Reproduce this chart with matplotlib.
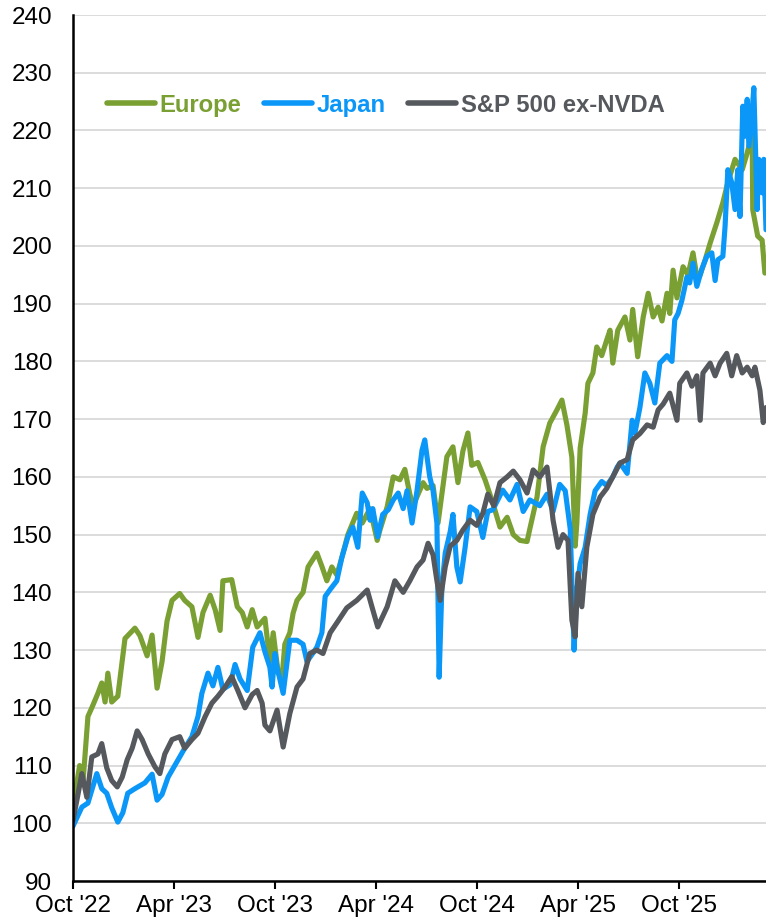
import pandas as pd
import matplotlib
matplotlib.use('Agg')
import matplotlib.pyplot as plt

plt.rcParams['font.family'] = ['Liberation Sans', 'DejaVu Sans']

# Europe
europe_dates = [
    '2022-10-01', '2022-10-13', '2022-10-19', '2022-10-28', '2022-11-04', '2022-11-15',
    '2022-11-22', '2022-11-28', '2022-12-03', '2022-12-10', '2022-12-21', '2023-01-03',
    '2023-01-21', '2023-01-30', '2023-02-12', '2023-02-21', '2023-03-02', '2023-03-11',
    '2023-03-20', '2023-03-29', '2023-04-12', '2023-04-21', '2023-05-04', '2023-05-15',
    '2023-05-24', '2023-06-06', '2023-06-15', '2023-06-24', '2023-06-29', '2023-07-15',
    '2023-07-25', '2023-08-03', '2023-08-12', '2023-08-21', '2023-08-30', '2023-09-13',
    '2023-09-22', '2023-09-28', '2023-10-07', '2023-10-14', '2023-10-19', '2023-10-28',
    '2023-11-03', '2023-11-10', '2023-11-21', '2023-11-30', '2023-12-16', '2023-12-25',
    '2024-01-03', '2024-01-12', '2024-01-21', '2024-01-30', '2024-02-10', '2024-02-26',
    '2024-03-07', '2024-03-21', '2024-04-03', '2024-04-08', '2024-04-21', '2024-05-02',
    '2024-05-14', '2024-05-23', '2024-06-01', '2024-06-07', '2024-06-25', '2024-07-02',
    '2024-07-13', '2024-07-22', '2024-08-07', '2024-08-18', '2024-08-27', '2024-09-05',
    '2024-09-14', '2024-09-21', '2024-10-02', '2024-10-15', '2024-10-29', '2024-11-11',
    '2024-11-24', '2024-12-05', '2024-12-17', '2024-12-30', '2025-01-04', '2025-01-17',
    '2025-01-28', '2025-02-09', '2025-02-22', '2025-03-03', '2025-03-12', '2025-03-21',
    '2025-03-27', '2025-03-30', '2025-04-05', '2025-04-14', '2025-04-19', '2025-04-28',
    '2025-05-05', '2025-05-14', '2025-05-23', '2025-05-29', '2025-06-03', '2025-06-12',
    '2025-06-25', '2025-07-04', '2025-07-09', '2025-07-18', '2025-07-28', '2025-08-06',
    '2025-08-15', '2025-08-24', '2025-08-31', '2025-09-09', '2025-09-14', '2025-09-20',
    '2025-09-27', '2025-10-08', '2025-10-17', '2025-10-26', '2025-11-02', '2025-11-08',
    '2025-11-17', '2025-11-26', '2025-12-08', '2025-12-19', '2025-12-28', '2026-01-10',
    '2026-01-23', '2026-02-01', '2026-02-10', '2026-02-11', '2026-02-20', '2026-02-28',
    '2026-03-05',
]
europe_values = [
    103.0, 110.0, 107.0, 118.5, 120.0, 122.5,
    124.3, 121.0, 126.0, 121.0, 122.0, 132.0,
    133.8, 132.5, 129.0, 132.6, 123.4, 128.0,
    135.0, 138.6, 139.8, 138.6, 137.5, 132.2,
    136.5, 139.5, 137.0, 133.4, 142.0, 142.2,
    137.5, 136.5, 134.0, 137.0, 134.0, 135.5,
    128.0, 133.0, 126.0, 125.3, 131.0, 133.0,
    136.4, 138.6, 140.0, 144.4, 146.8, 144.5,
    142.0, 144.4, 143.0, 146.0, 150.0, 153.7,
    152.0, 154.5, 149.0, 150.8, 154.8, 160.0,
    159.5, 161.3, 157.0, 155.0, 159.0, 158.0,
    158.5, 152.0, 163.5, 165.2, 159.0, 164.5,
    167.6, 162.0, 162.5, 159.5, 155.5, 151.3,
    153.0, 150.0, 149.0, 148.8, 151.0, 156.5,
    165.2, 169.3, 171.6, 173.3, 169.0, 163.4,
    148.0, 152.0, 165.0, 171.0, 176.2, 178.0,
    182.5, 181.0, 183.7, 185.4, 179.7, 185.4,
    187.7, 183.7, 189.0, 180.8, 187.7, 191.8,
    187.7, 189.4, 187.0, 191.8, 188.3, 195.8,
    191.0, 196.4, 195.0, 198.8, 194.7, 195.0,
    197.6, 200.5, 204.0, 207.5, 211.0, 215.0,
    213.2, 216.1, 219.6, 206.3, 201.7, 201.0,
    195.3,
]

# Japan
japan_dates = [
    '2022-10-01', '2022-10-17', '2022-10-28', '2022-11-13', '2022-11-22', '2022-12-01',
    '2022-12-10', '2022-12-21', '2022-12-30', '2023-01-08', '2023-01-21', '2023-02-08',
    '2023-02-21', '2023-03-02', '2023-03-11', '2023-03-22', '2023-04-03', '2023-04-12',
    '2023-04-21', '2023-05-04', '2023-05-15', '2023-05-22', '2023-06-02', '2023-06-11',
    '2023-06-20', '2023-06-29', '2023-07-12', '2023-07-21', '2023-07-30', '2023-08-12',
    '2023-08-22', '2023-09-04', '2023-09-13', '2023-09-22', '2023-09-26', '2023-10-01',
    '2023-10-05', '2023-10-16', '2023-10-28', '2023-11-10', '2023-11-21', '2023-11-28',
    '2023-12-09', '2023-12-16', '2023-12-25', '2023-12-31', '2024-01-09', '2024-01-21',
    '2024-01-30', '2024-02-10', '2024-02-19', '2024-02-28', '2024-03-07', '2024-03-16',
    '2024-03-21', '2024-03-26', '2024-04-04', '2024-04-13', '2024-04-23', '2024-05-02',
    '2024-05-11', '2024-05-20', '2024-05-27', '2024-06-05', '2024-06-14', '2024-06-23',
    '2024-06-28', '2024-07-07', '2024-07-13', '2024-07-20', '2024-07-24', '2024-07-29',
    '2024-08-04', '2024-08-13', '2024-08-18', '2024-08-25', '2024-08-31', '2024-09-09',
    '2024-09-18', '2024-09-30', '2024-10-11', '2024-10-20', '2024-10-29', '2024-11-16',
    '2024-11-29', '2024-12-12', '2024-12-23', '2025-01-04', '2025-01-22', '2025-02-04',
    '2025-02-15', '2025-02-27', '2025-03-09', '2025-03-18', '2025-03-23', '2025-03-25',
    '2025-03-30', '2025-04-05', '2025-04-14', '2025-04-23', '2025-05-02', '2025-05-14',
    '2025-05-23', '2025-06-03', '2025-06-11', '2025-06-16', '2025-06-29', '2025-07-08',
    '2025-07-13', '2025-07-22', '2025-07-31', '2025-08-09', '2025-08-18', '2025-08-27',
    '2025-09-09', '2025-09-18', '2025-09-23', '2025-09-29', '2025-10-06', '2025-10-15',
    '2025-10-20', '2025-10-26', '2025-11-02', '2025-11-11', '2025-11-20', '2025-11-29',
    '2025-12-05', '2025-12-10', '2025-12-19', '2025-12-23', '2025-12-28', '2026-01-04',
    '2026-01-10', '2026-01-15', '2026-01-19', '2026-01-24', '2026-01-28', '2026-02-01',
    '2026-02-04', '2026-02-11', '2026-02-13', '2026-02-19', '2026-02-22', '2026-02-28',
    '2026-03-03', '2026-03-07',
]
japan_values = [
    99.5, 102.8, 103.5, 108.6, 106.0, 105.2,
    102.7, 100.2, 101.8, 105.2, 106.0, 107.0,
    108.5, 104.0, 105.0, 108.0, 110.0, 111.5,
    113.0, 115.0, 118.5, 122.5, 126.0, 123.8,
    127.0, 123.2, 124.0, 127.5, 125.0, 123.0,
    130.5, 133.0, 129.7, 127.0, 123.6, 129.4,
    127.0, 122.5, 131.7, 131.7, 131.0, 128.0,
    129.5, 130.5, 133.0, 139.3, 140.5, 142.0,
    146.0, 149.6, 151.3, 147.8, 157.2, 155.5,
    152.5, 154.5, 149.6, 153.5, 154.3, 156.0,
    157.2, 154.5, 157.6, 152.0, 157.6, 164.6,
    166.4, 160.0, 157.6, 152.0, 125.3, 141.0,
    146.8, 150.5, 153.5, 144.4, 141.8, 147.8,
    154.8, 154.0, 149.5, 154.0, 154.3, 157.7,
    156.0, 158.7, 154.0, 156.0, 155.0, 157.0,
    154.0, 158.7, 157.6, 151.0, 136.4, 130.0,
    140.4, 145.0, 147.8, 153.5, 157.6, 159.2,
    158.5, 160.0, 161.7, 162.4, 160.6, 169.8,
    167.6, 172.0, 178.0, 176.2, 172.8, 179.7,
    181.0, 180.0, 187.2, 188.3, 190.6, 194.6,
    193.6, 197.0, 193.0, 196.0, 198.2, 198.8,
    194.0, 197.6, 198.2, 203.4, 213.2, 211.0,
    206.3, 213.2, 205.1, 224.2, 219.0, 225.4,
    217.3, 224.8, 227.4, 206.3, 215.0, 209.2,
    215.0, 202.8,
]

# S&P 500 ex-NVDA
spx_dates = [
    '2022-10-01', '2022-10-10', '2022-10-17', '2022-10-26', '2022-11-04', '2022-11-15',
    '2022-11-22', '2022-12-01', '2022-12-10', '2022-12-20', '2022-12-29', '2023-01-07',
    '2023-01-16', '2023-01-25', '2023-02-03', '2023-02-14', '2023-02-26', '2023-03-07',
    '2023-03-16', '2023-03-29', '2023-04-12', '2023-04-21', '2023-05-04', '2023-05-15',
    '2023-05-28', '2023-06-09', '2023-06-20', '2023-07-03', '2023-07-15', '2023-07-26',
    '2023-08-08', '2023-08-21', '2023-08-30', '2023-09-08', '2023-09-13', '2023-09-22',
    '2023-10-05', '2023-10-16', '2023-10-28', '2023-11-10', '2023-11-21', '2023-12-03',
    '2023-12-16', '2023-12-27', '2024-01-09', '2024-01-21', '2024-02-08', '2024-02-26',
    '2024-03-16', '2024-03-26', '2024-04-04', '2024-04-21', '2024-05-05', '2024-05-20',
    '2024-06-01', '2024-06-14', '2024-06-25', '2024-07-04', '2024-07-13', '2024-07-20',
    '2024-07-26', '2024-08-04', '2024-08-13', '2024-08-25', '2024-09-05', '2024-09-18',
    '2024-09-30', '2024-10-11', '2024-10-20', '2024-10-31', '2024-11-11', '2024-11-24',
    '2024-12-05', '2024-12-17', '2024-12-30', '2025-01-10', '2025-01-22', '2025-02-04',
    '2025-02-09', '2025-02-15', '2025-02-24', '2025-03-05', '2025-03-14', '2025-03-21',
    '2025-03-27', '2025-04-01', '2025-04-08', '2025-04-17', '2025-04-28', '2025-05-11',
    '2025-05-23', '2025-06-03', '2025-06-16', '2025-06-29', '2025-07-09', '2025-07-22',
    '2025-08-04', '2025-08-15', '2025-08-24', '2025-09-02', '2025-09-14', '2025-09-27',
    '2025-10-02', '2025-10-15', '2025-10-24', '2025-11-02', '2025-11-08', '2025-11-13',
    '2025-11-26', '2025-12-05', '2025-12-14', '2025-12-26', '2026-01-04', '2026-01-13',
    '2026-01-23', '2026-02-01', '2026-02-10', '2026-02-15', '2026-02-24', '2026-03-02',
    '2026-03-07',
]
spx_values = [
    100.5, 105.0, 108.6, 104.5, 111.5, 112.0,
    113.8, 109.6, 107.4, 106.3, 108.0, 111.0,
    113.0, 116.0, 114.5, 112.0, 109.8, 108.6,
    112.0, 114.5, 115.0, 113.0, 114.5, 115.6,
    118.5, 120.8, 122.0, 123.6, 125.4, 123.0,
    120.0, 122.3, 123.0, 120.8, 117.0, 116.0,
    119.6, 113.2, 119.0, 123.6, 125.0, 129.4,
    130.0, 129.4, 133.0, 134.7, 137.3, 138.6,
    140.4, 137.0, 134.0, 137.5, 142.0, 140.0,
    142.0, 144.4, 145.6, 148.5, 146.5, 142.0,
    138.6, 144.4, 148.0, 149.0, 150.8, 152.5,
    151.6, 153.7, 157.0, 155.0, 159.0, 160.0,
    161.0, 159.5, 157.2, 161.2, 160.0, 161.7,
    157.6, 152.5, 147.8, 150.0, 149.0, 135.2,
    132.3, 143.3, 137.5, 147.8, 153.5, 156.5,
    158.0, 160.0, 162.4, 163.0, 166.4, 167.5,
    169.0, 168.6, 171.6, 172.6, 174.5, 169.8,
    176.2, 178.0, 175.7, 177.5, 169.8, 178.0,
    179.7, 177.5, 179.7, 181.4, 177.5, 181.0,
    178.0, 179.0, 177.5, 179.0, 175.0, 169.4,
    172.0,
]

tick_dates = ['2022-10-01', '2023-04-01', '2023-10-01', '2024-04-01',
              '2024-10-01', '2025-04-01', '2025-10-01']
tick_labels = ["Oct '22", "Apr '23", "Oct '23", "Apr '24", "Oct '24", "Apr '25", "Oct '25"]

W, H = 766, 923
fig = plt.figure(figsize=(W / 100, H / 100), dpi=100)
ax = fig.add_axes([73 / W, 1 - 881 / H, 1 - 73 / W, (881 - 15) / H])

line_kw = dict(lw=3.7, solid_joinstyle='round', solid_capstyle='round')
ax.plot(pd.to_datetime(europe_dates), europe_values, color='#7A9F32', label='Europe', **line_kw)
ax.plot(pd.to_datetime(japan_dates), japan_values, color='#0A97F8', label='Japan', **line_kw)
ax.plot(pd.to_datetime(spx_dates), spx_values, color='#55585C', label='S&P 500 ex-NVDA', **line_kw)

ax.set_xlim(pd.Timestamp('2022-10-01'), pd.Timestamp('2026-03-07'))
ax.set_ylim(90, 240)
ax.set_yticks(range(90, 241, 10))
ax.set_xticks(pd.to_datetime(tick_dates))
ax.set_xticklabels(tick_labels)

ax.grid(axis='y', color='#d9d9d9', lw=1.3)
ax.set_axisbelow(True)
for s in ['top', 'right']:
    ax.spines[s].set_visible(False)
for s in ['left', 'bottom']:
    ax.spines[s].set_linewidth(1.8)
    ax.spines[s].set_color('black')

ax.tick_params(axis='y', length=0, pad=15, labelsize=17.5)
ax.tick_params(axis='x', length=6, width=1.5, pad=4, labelsize=17.5)

leg = ax.legend(loc='upper left', bbox_to_anchor=(0.049, 0.909), ncol=3, frameon=False,
                handlelength=2.0, handletextpad=0.2, columnspacing=0.95,
                borderpad=0, borderaxespad=0, labelcolor='linecolor',
                prop={'weight': 'bold', 'size': 17.2})
for h in leg.get_lines():
    h.set_linewidth(4)
    h.set_solid_capstyle('round')

fig.savefig('out.png', dpi=100)
